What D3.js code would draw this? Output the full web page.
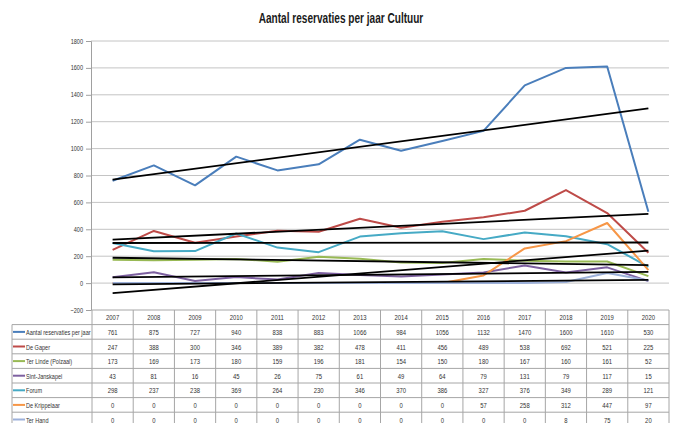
<!doctype html>
<html>
<head>
<meta charset="utf-8">
<title>Aantal reservaties per jaar Cultuur</title>
<style>
  body { margin: 0; background: #fff; }
  svg { font-family: "Liberation Sans", Arial, sans-serif; }
</style>
</head>
<body>
<svg width="677" height="423"></svg>
<script src="https://cdn.jsdelivr.net/npm/d3@7"></script>
<script>
// data
const years = ["2007","2008","2009","2010","2011","2012","2013","2014","2015","2016","2017","2018","2019","2020"];
const seriesNames = ["Aantal reservaties per jaar","De Gaper","Ter Linde (Polzaal)","Sint-Janskapel","Forum","De Krippelaar","Ter Hand"];
const totals    = [761, 875, 727, 940, 838, 883, 1066, 984, 1056, 1132, 1470, 1600, 1610, 530];
const deGaper   = [247, 388, 300, 346, 389, 382, 478, 411, 456, 489, 538, 692, 521, 225];
const terLinde  = [173, 169, 173, 180, 159, 196, 181, 154, 150, 180, 167, 160, 161, 52];
const sintJans  = [43, 81, 16, 45, 26, 75, 61, 49, 64, 79, 131, 79, 117, 15];
const forum     = [298, 237, 238, 369, 264, 230, 346, 370, 386, 327, 376, 349, 289, 121];
const krippel   = [0, 0, 0, 0, 0, 0, 0, 0, 0, 57, 258, 312, 447, 97];
const terHand   = [0, 0, 0, 0, 0, 0, 0, 0, 0, 0, 0, 8, 75, 20];
const colors = ["#4a7ebb","#be4b48","#98b954","#7d60a0","#46aac5","#f79646","#9db1da"];
const yTicks = [-200, 0, 200, 400, 600, 800, 1000, 1200, 1400, 1600, 1800];

const allSeries = [totals, deGaper, terLinde, sintJans, forum, krippel, terHand];

const svg = d3.select("svg");

const plotLeft = 92, plotRight = 669, plotTop = 41, plotBottom = 310;
const x = d3.scaleBand().domain(years).range([plotLeft, plotRight]).padding(0);
const y = d3.scaleLinear().domain([-200, 1800]).range([plotBottom, plotTop]);
const cx = d => x(d) + x.bandwidth() / 2;

// the original uses a narrow (Calibri-like) face: squeeze text horizontally
const squeeze = 0.74;
function narrowText(parent, tx, ty, str, size, anchor) {
  return parent.append("text")
    .attr("transform", "translate(" + tx + "," + ty + ") scale(" + squeeze + ",1)")
    .attr("text-anchor", anchor || "middle")
    .attr("font-size", size)
    .attr("fill", "#333")
    .text(str);
}

// title
svg.append("text")
  .attr("transform", "translate(341,23) scale(0.72,1)")
  .attr("text-anchor", "middle")
  .attr("font-size", "14px").attr("font-weight", "bold")
  .attr("fill", "#1a1a1a")
  .text("Aantal reservaties per jaar Cultuur");

// gridlines
svg.append("g").selectAll("line")
  .data(yTicks.filter(t => t >= 0))
  .enter().append("line")
  .attr("x1", plotLeft - 1).attr("x2", plotRight)
  .attr("y1", d => y(d)).attr("y2", d => y(d))
  .attr("stroke", "#c4c4c4").attr("stroke-width", 1);

// y axis (labels drawn narrow by hand)
const yAxis = svg.append("g")
  .attr("transform", "translate(" + (plotLeft - 1) + ",0)")
  .call(d3.axisLeft(y).tickValues(yTicks).tickSize(5).tickFormat(""));
yAxis.select(".domain").attr("stroke", "#a0a0a0");
yAxis.selectAll(".tick line").attr("stroke", "#a0a0a0");
yTicks.forEach(t => narrowText(svg, plotLeft - 9, y(t) + 2.5, d3.format("d")(t), "7.5px", "end"));

// series lines
const line = d3.line().x((d, i) => cx(years[i])).y(d => y(d));
allSeries.forEach((s, k) => {
  svg.append("path")
    .datum(s)
    .attr("d", line)
    .attr("fill", "none")
    .attr("stroke", colors[k])
    .attr("stroke-width", 2)
    .attr("stroke-linejoin", "round");
});

// linear trend lines (least squares, as in the original spreadsheet)
function trend(vals) {
  const n = vals.length;
  const mx = d3.mean(vals, (d, i) => i), my = d3.mean(vals);
  let sxy = 0, sxx = 0;
  vals.forEach((v, i) => { sxy += (i - mx) * (v - my); sxx += (i - mx) * (i - mx); });
  const b = sxy / sxx, a = my - b * mx;
  return [a, a + b * (n - 1)];
}
allSeries.forEach(s => {
  const t = trend(s);
  svg.append("line")
    .attr("x1", cx(years[0])).attr("y1", y(t[0]))
    .attr("x2", cx(years[years.length - 1])).attr("y2", y(t[1]))
    .attr("stroke", "#000").attr("stroke-width", 1.8);
});

// data table
const rowH = 14.6;
const tableTop = plotBottom;
const tLeft = 12;
const tg = svg.append("g");
const grid = "#a6a6a6";

// header row
tg.append("line").attr("x1", plotLeft).attr("x2", plotRight).attr("y1", tableTop).attr("y2", tableTop).attr("stroke", grid);
years.forEach(yr => narrowText(tg, cx(yr), tableTop + rowH / 2 + 3, yr, "8px"));

allSeries.forEach((s, r) => {
  const ry = tableTop + rowH * (r + 1);
  tg.append("line").attr("x1", tLeft).attr("x2", plotRight).attr("y1", ry).attr("y2", ry).attr("stroke", grid);
  tg.append("line")
    .attr("x1", tLeft + 1).attr("x2", tLeft + 13)
    .attr("y1", ry + rowH / 2).attr("y2", ry + rowH / 2)
    .attr("stroke", colors[r]).attr("stroke-width", 2);
  narrowText(tg, tLeft + 14, ry + rowH / 2 + 3, seriesNames[r], "7.5px", "start");
  s.forEach((v, i) => narrowText(tg, cx(years[i]), ry + rowH / 2 + 3, v, "8px"));
});
const lastY = tableTop + rowH * (allSeries.length + 1);
tg.append("line").attr("x1", tLeft).attr("x2", plotRight).attr("y1", lastY).attr("y2", lastY).attr("stroke", grid);

// vertical table lines
tg.append("line").attr("x1", tLeft).attr("x2", tLeft).attr("y1", tableTop + rowH).attr("y2", lastY).attr("stroke", grid);
years.forEach(yr => {
  tg.append("line").attr("x1", x(yr)).attr("x2", x(yr)).attr("y1", tableTop).attr("y2", lastY).attr("stroke", grid);
});
tg.append("line").attr("x1", plotRight).attr("x2", plotRight).attr("y1", tableTop).attr("y2", lastY).attr("stroke", grid);
</script>
</body>
</html>
